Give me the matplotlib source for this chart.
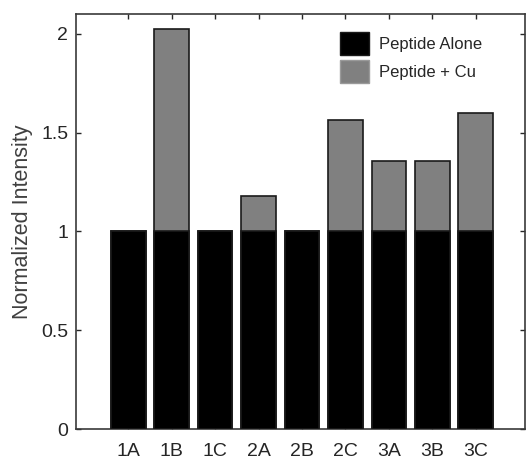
import matplotlib
matplotlib.use("Agg")
import matplotlib.pyplot as plt
from matplotlib.patches import Patch

categories = ["1A", "1B", "1C", "2A", "2B", "2C", "3A", "3B", "3C"]
alone = [1, 1, 1, 1, 1, 1, 1, 1, 1]
with_cu = [1.0, 2.025, 1.0, 1.18, 1.0, 1.566, 1.358, 1.358, 1.597]
yticks = [0, 0.5, 1, 1.5, 2]
ytick_labels = ["0", "0.5", "1", "1.5", "2"]

plt.rcParams['font.family'] = ['Liberation Sans', 'DejaVu Sans']
fig = plt.figure(figsize=(5.28, 4.59), dpi=100)
ax = fig.add_axes([76/528, 1-429/459, (525-76)/528, (429-14)/459])

x = list(range(1, len(categories) + 1))
ec = "#1a1a1a"
ax.bar(x, with_cu, width=0.8, color="#808080", edgecolor=ec, linewidth=1.2, zorder=2)
ax.bar(x, alone, width=0.8, color="black", edgecolor=ec, linewidth=1.2, zorder=3)

ax.set_xlim(-0.2, 10.13)
ax.set_ylim(0, 2.1)
ax.set_xticks(x)
ax.set_xticklabels(categories)
ax.set_yticks(yticks)
ax.set_yticklabels(ytick_labels)
col = "#262626"
ax.tick_params(direction="in", top=True, right=True, length=3.6, width=1, colors=col,
               labelsize=14)
ax.tick_params(axis="x", pad=10)
ax.tick_params(axis="y", pad=5.5)
for s in ax.spines.values():
    s.set_color("#3a3a3a")
    s.set_linewidth(1.2)
ax.set_ylabel("Normalized Intensity", fontsize=15.5, color="#404040", labelpad=6)

handles = [Patch(facecolor="black", edgecolor="#1a1a1a", label="Peptide Alone"),
           Patch(facecolor="#808080", edgecolor="#9a9a9a", label="Peptide + Cu")]
ax.legend(handles=handles, loc="upper left", bbox_to_anchor=((340-76)/449, (429-32)/415),
          frameon=False, borderpad=0, borderaxespad=0,
          fontsize=12, handlelength=1.74, handleheight=1.74, handletextpad=0.6,
          labelspacing=0.3, labelcolor=col)

fig.savefig("out.png", dpi=100)
